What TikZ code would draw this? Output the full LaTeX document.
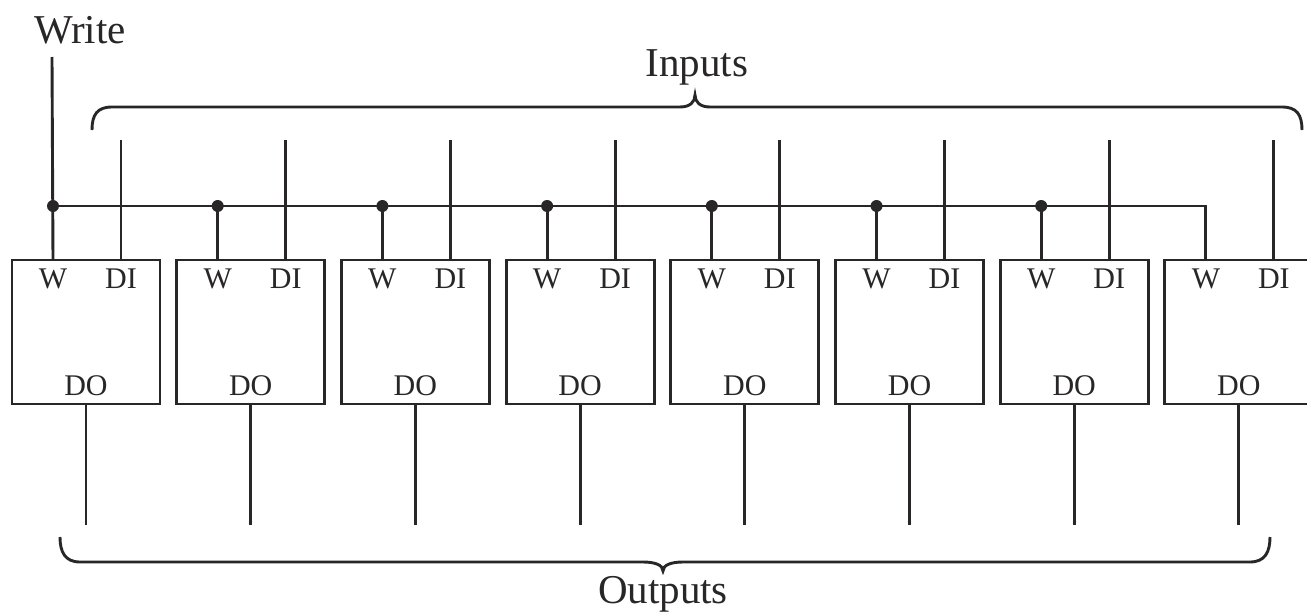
\documentclass[tikz,border=0pt]{standalone}
\usepackage{fontspec}
\setmainfont{Liberation Serif}
\definecolor{ink}{RGB}{40,38,38}
\begin{document}
\begin{tikzpicture}[x=1pt,y=-1pt,
  ink line/.style={draw=ink,line width=2.9pt},
  box/.style={draw=ink,line width=2.9pt,minimum width=148pt,minimum height=144pt,inner sep=0pt},
  lbl/.style={text=ink,font=\fontsize{30}{32}\selectfont,anchor=base,inner sep=0pt},
  big/.style={text=ink,font=\fontsize{41}{43}\selectfont,anchor=base,inner sep=0pt},
  brc/.style={draw=ink,line width=2.9pt},
  jdot/.style={circle,fill=ink,inner sep=0pt,minimum size=12pt}]
\useasboundingbox (0,0) rectangle (1307,613);
\clip (0,0) rectangle (1307,613);
\foreach \i in {1,...,8} {
  \pgfmathsetmacro\L{12+164.7*(\i-1)}
  \node[box] (b\i) at (\L+74,332) {};
  \node[lbl] (w\i) at (\L+41,288) {W};
  \node[lbl] (di\i) at (\L+109,288) {DI};
  \node[lbl] (do\i) at (\L+74,395) {DO};
  \coordinate (wp\i) at (\L+41,260);
  \coordinate (dip\i) at (\L+109,260);
  \coordinate (dop\i) at (\L+74,404);
  \coordinate (bus\i) at (\L+41,206);
  \coordinate (in\i) at (\L+109,140);
  \coordinate (out\i) at (\L+74,525);
  \draw[ink line] (in\i) -- (dip\i);
  \draw[ink line] (dop\i) -- (out\i);
}
% write line and bus
\node[big] (write) at (80,43) {Write};
\coordinate (wtop) at (52,57);
\draw[ink line] (wtop) -- (wp1);
\draw[ink line] (bus1) -- (bus8) -- (wp8);
\foreach \i in {2,...,7} {
  \draw[ink line] (bus\i) -- (wp\i);
}
\foreach \i in {1,...,7} {
  \node[jdot] (dot\i) at (bus\i) {};
}
% braces
\draw[brc] (92,130) .. controls (92,115) and (97,107) .. (112,107) -- (680,107)
  .. controls (690,107) and (695,102) .. (695,95)
  .. controls (695,102) and (700,107) .. (710,107) -- (1282,107)
  .. controls (1297,107) and (1302,115) .. (1302,130);
\node[big] (inputs) at (697,76) {Inputs};
\draw[brc] (60,537) .. controls (60,552) and (65,562) .. (80,562) -- (643,562)
  .. controls (655,562) and (663,565) .. (663,571)
  .. controls (663,565) and (671,562) .. (683,562) -- (1250,562)
  .. controls (1265,562) and (1270,552) .. (1270,537);
\node[big] (outputs) at (663,603) {Outputs};
\end{tikzpicture}
\end{document}
